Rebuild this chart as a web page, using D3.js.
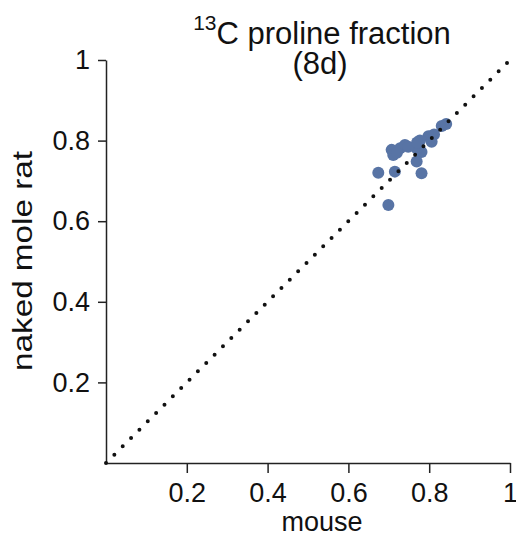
<!DOCTYPE html>
<html>
<head>
<meta charset="utf-8">
<script src="https://cdn.jsdelivr.net/npm/d3@7"></script>
<style>
  body { margin: 0; background: #fff; }
  svg { font-family: "Liberation Sans", Arial, Helvetica, sans-serif; }
</style>
</head>
<body>
<svg id="chart" width="516" height="541"></svg>
<script>
// mouse vs naked mole rat, 13C proline fraction
const mouseVals = [0.831, 0.842, 0.798, 0.812, 0.777, 0.806, 0.781, 0.769, 0.707, 0.711,
  0.728, 0.740, 0.748, 0.720, 0.769, 0.674, 0.715, 0.781, 0.699, 0.770];
const nmrVals = [0.836, 0.841, 0.811, 0.815, 0.800, 0.797, 0.772, 0.781, 0.777, 0.764,
  0.781, 0.789, 0.785, 0.770, 0.748, 0.720, 0.723, 0.719, 0.640, 0.795];
const tickVals = [0.2, 0.4, 0.6, 0.8, 1];
const identity = [0, 1];

const svg = d3.select('#chart');
const plotLeft = 106, plotRight = 510, plotTop = 60, plotBottom = 463;

const x = d3.scaleLinear().domain([0, 1]).range([plotLeft, plotRight]);
const y = d3.scaleLinear().domain([0, 1]).range([plotBottom, plotTop]);
const fmt = d => d === 1 ? '1' : d.toFixed(1);

// axes
const xAxis = svg.append('g')
  .attr('transform', `translate(0,${plotBottom})`)
  .call(d3.axisBottom(x).tickValues(tickVals).tickFormat(fmt).tickSizeInner(10).tickSizeOuter(0));
const yAxis = svg.append('g')
  .attr('transform', `translate(${plotLeft},0)`)
  .call(d3.axisLeft(y).tickValues(tickVals).tickFormat(fmt).tickSizeInner(8).tickSizeOuter(0));

[xAxis, yAxis].forEach(a => {
  a.select('.domain').attr('stroke', '#222').attr('stroke-width', 1.5);
  a.selectAll('.tick line').attr('stroke', '#222').attr('stroke-width', 1.5);
  a.selectAll('.tick text').style('font-size', '27px').attr('fill', '#111')
    .style('font-family', '"Liberation Sans", Arial, sans-serif');
});
xAxis.selectAll('.tick text').attr('y', 20);
yAxis.selectAll('.tick text').attr('x', -16);

// points
svg.append('g')
  .selectAll('circle')
  .data(mouseVals)
  .join('circle')
  .attr('cx', d => x(d))
  .attr('cy', (d, i) => y(nmrVals[i]))
  .attr('r', 6)
  .attr('fill', '#5874a5');

// dotted identity line
svg.append('line')
  .attr('x1', x(identity[0])).attr('y1', y(identity[0]))
  .attr('x2', x(identity[1])).attr('y2', y(identity[1]))
  .attr('stroke', '#111')
  .attr('stroke-width', 4)
  .attr('stroke-linecap', 'round')
  .attr('stroke-dasharray', '0,11.8');

// title
const title = svg.append('text')
  .attr('x', 322).attr('y', 44)
  .attr('text-anchor', 'middle')
  .style('font-size', '31px')
  .attr('fill', '#111');
title.append('tspan').text('13').style('font-size', '21px').attr('dy', -14);
title.append('tspan').text('C proline fraction').attr('dy', 14);
svg.append('text')
  .attr('x', 320).attr('y', 74)
  .attr('text-anchor', 'middle')
  .style('font-size', '31px')
  .attr('fill', '#111')
  .text('(8d)');

// axis labels
svg.append('text')
  .attr('x', 322).attr('y', 531)
  .attr('text-anchor', 'middle')
  .style('font-size', '27px')
  .attr('fill', '#111')
  .text('mouse');
svg.append('text')
  .attr('transform', 'translate(32,261) rotate(-90)')
  .attr('text-anchor', 'middle')
  .style('font-size', '28px')
  .attr('textLength', 220)
  .attr('lengthAdjust', 'spacingAndGlyphs')
  .attr('fill', '#111')
  .text('naked mole rat');
</script>
</body>
</html>
